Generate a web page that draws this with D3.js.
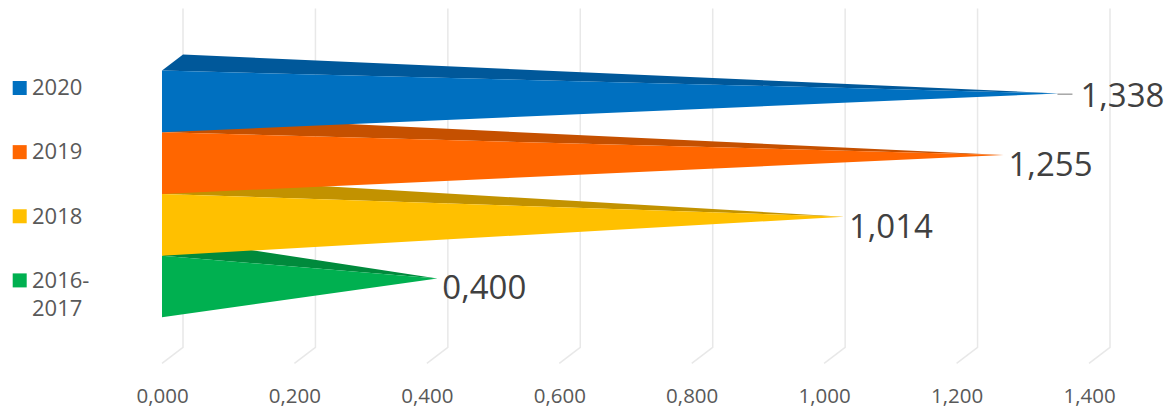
<!DOCTYPE html>
<html>
<head>
<meta charset="utf-8">
<script src="https://cdn.jsdelivr.net/npm/d3@7"></script>
<style>
  html, body { margin: 0; padding: 0; background: #ffffff; }
  svg { display: block; font-family: "Open Sans", "Noto Sans", sans-serif; }
</style>
</head>
<body>
<svg id="chart" width="1168" height="410"></svg>
<script>
// ---- data ----
const seriesNames = ["2020", "2019", "2018", "2016-2017"];
const seriesValues = [1.338, 1.255, 1.014, 0.400];
const valueLabels = ["1,338", "1,255", "1,014", "0,400"];
const frontColors = ["#0070C0", "#FF6600", "#FFC000", "#00B050"];
const topColors = ["#00589A", "#C55000", "#C29200", "#008A3C"];
const tickValues = [0, 0.2, 0.4, 0.6, 0.8, 1.0, 1.2, 1.4];
const tickLabels = ["0,000", "0,200", "0,400", "0,600", "0,800", "1,000", "1,200", "1,400"];
const legendLines = [["2020"], ["2019"], ["2018"], ["2016-", "2017"]];

// ---- layout ----
const svg = d3.select("#chart");
const DX = 21, DY = -16;           // 3D depth offset
const frontTop = 24.6, frontBottom = 363.3;

const x = d3.scaleLinear().domain([0, 1.4]).range([162, 1089]);
const y = d3.scaleBand().domain(seriesNames).range([frontTop, frontBottom])
  .paddingInner(0).paddingOuter(0.745);

// gridlines: vertical on back wall, diagonal across floor
const grid = svg.append("g").attr("class", "grid");
grid.selectAll("path").data(tickValues).join("path")
  .attr("d", d => {
    const xb = x(d) + DX;
    return `M${xb},${frontTop + DY}L${xb},${frontBottom + DY}L${x(d)},${frontBottom}`;
  })
  .attr("fill", "none")
  .attr("stroke", "#e8e8e8")
  .attr("stroke-width", 1.5);

// axis labels
const axis = d3.axisBottom(x)
  .tickValues(tickValues)
  .tickFormat((d, i) => tickLabels[i])
  .tickSize(0)
  .tickPadding(3);
const axG = svg.append("g").attr("transform", "translate(0,385)").call(axis);
axG.select(".domain").remove();
axG.selectAll("text")
  .attr("fill", "#595959")
  .style("font-size", "20.5px")
  .style("font-family", "'Open Sans', sans-serif");

// bars (pyramids): draw bottom series first so upper ones overlap top faces
const bars = svg.append("g").attr("class", "bars");
const idx = d3.range(seriesNames.length).reverse();
function apexOf(i) {
  const top = y(seriesNames[i]);
  const mid = top + y.bandwidth() / 2;
  return [x(seriesValues[i]) + DX / 2, mid + DY / 2];
}
idx.forEach(i => {
  const top = y(seriesNames[i]);
  const bottom = top + y.bandwidth();
  const ap = apexOf(i);
  const x0 = x(0);
  const g = bars.append("g");
  g.append("path")
    .attr("d", d3.line()([[x0, top], [x0 + DX, top + DY], ap]) + "Z")
    .attr("fill", topColors[i]);
  g.append("path")
    .attr("d", d3.line()([[x0, top], [x0, bottom], ap]) + "Z")
    .attr("fill", frontColors[i]);
});

// data labels
const labelOffsets = seriesNames.map((d, i) => i === 0 ? [22, 14] : [5, 21]);
const labels = svg.append("g").attr("class", "labels");
seriesNames.forEach((s, i) => {
  const ap = apexOf(i);
  const off = labelOffsets[i];
  if (i === 0) {
    labels.append("line")
      .attr("x1", ap[0] - 1).attr("x2", ap[0] + 14)
      .attr("y1", ap[1] + 0.8).attr("y2", ap[1] + 0.8)
      .attr("stroke", "#a6a6a6").attr("stroke-width", 1.5);
  }
  labels.append("text")
    .attr("x", ap[0] + off[0])
    .attr("y", ap[1] + off[1])
    .attr("fill", "#404040")
    .style("font-size", "33px")
    .text(valueLabels[i]);
});

// legend
const legend = svg.append("g").attr("class", "legend");
const legendY = d3.scalePoint().domain(seriesNames).range([95.3, 287.7]);
seriesNames.forEach((s, i) => {
  const by = legendY(s);
  legend.append("rect")
    .attr("x", 12.7).attr("y", by - 14.3)
    .attr("width", 14).attr("height", 14)
    .attr("fill", frontColors[i]);
  const t = legend.append("text")
    .attr("x", 32).attr("y", by)
    .attr("fill", "#595959")
    .style("font-size", "22px");
  legendLines[i].forEach((ln, j) => {
    t.append("tspan").attr("x", 32).attr("dy", j === 0 ? 0 : 28).text(ln);
  });
});
</script>
</body>
</html>
